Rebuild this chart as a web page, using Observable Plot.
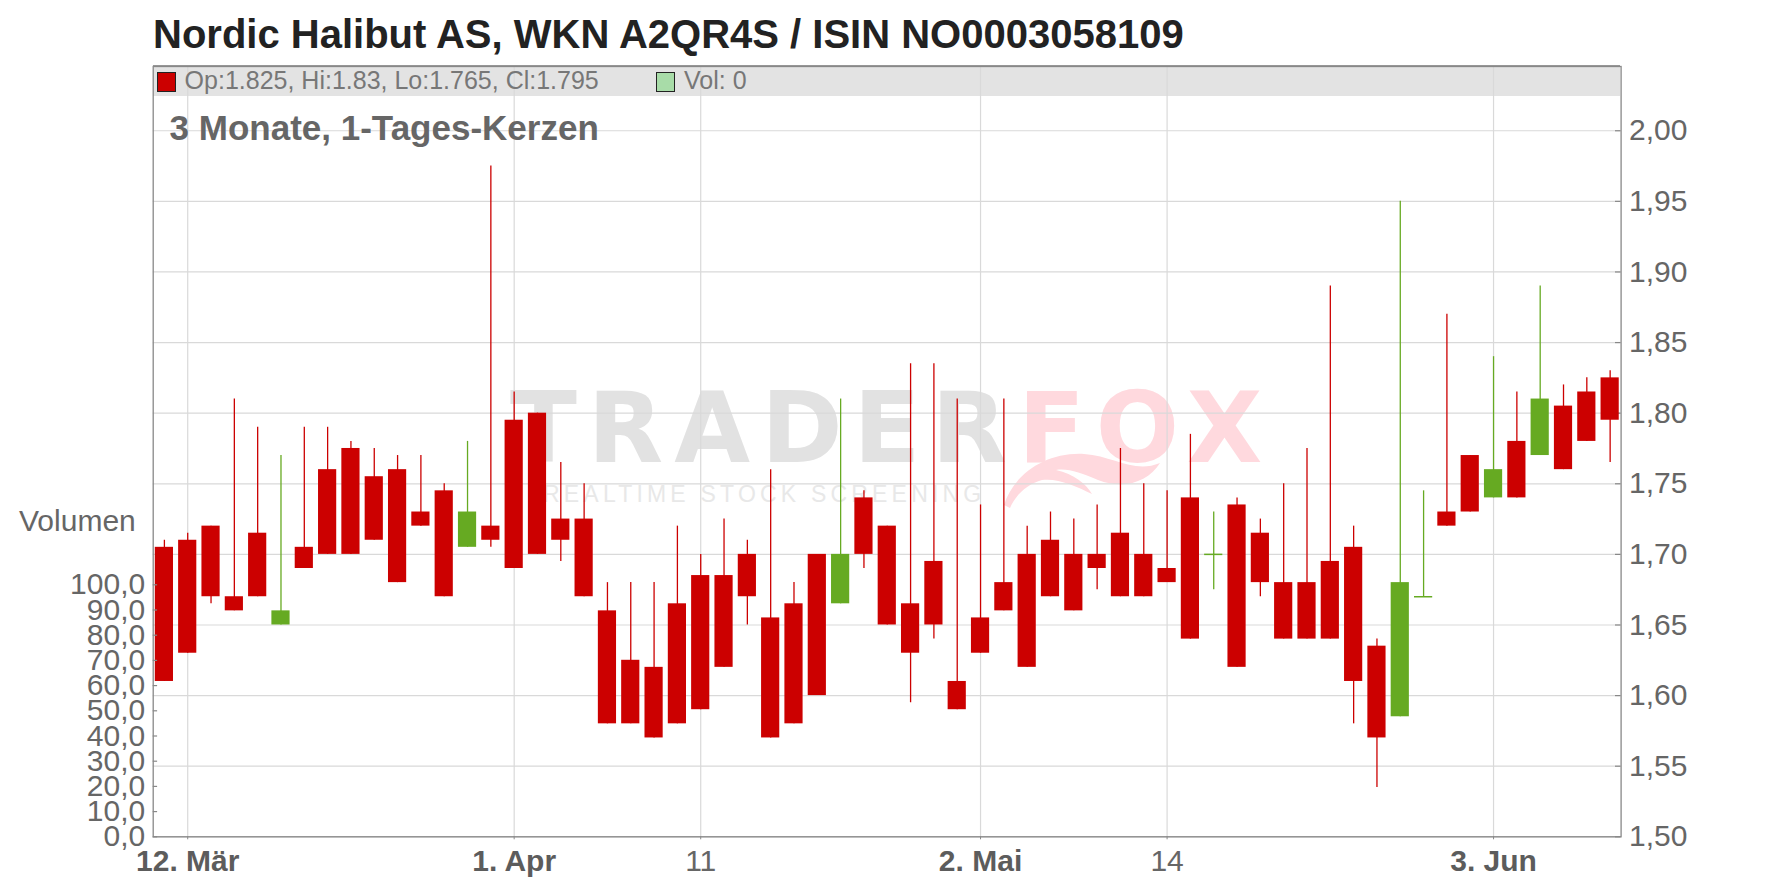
<!DOCTYPE html>
<html>
<head>
<meta charset="utf-8">
<script src="https://cdn.jsdelivr.net/npm/d3@7"></script>
<script src="https://cdn.jsdelivr.net/npm/@observablehq/plot@0.6"></script>
<style>
html, body { margin: 0; padding: 0; background: #fff; }
#wrap { position: relative; width: 1776px; height: 888px; overflow: hidden; font-family: "Liberation Sans", Arial, sans-serif; }
.abs { position: absolute; white-space: nowrap; line-height: 1; }
#chart, #vol { position: absolute; left: 0; top: 0; }
.sq { position: absolute; box-sizing: border-box; border: 1.5px solid #222; }
</style>
</head>
<body>
<div id="wrap">
  <div class="abs" style="left:153px;top:65px;width:1467px;height:31px;background:#e3e3e3;border-top:1.5px solid #999;box-sizing:border-box;"></div>
  <svg class="abs" style="left:0;top:0;" width="1776" height="888">
    <path d="M 1004,505 C 1014,474 1046,452 1084,454 C 1114,456 1134,474 1160,463 C 1148,482 1124,490 1098,480 C 1081,473 1068,468 1056,470 C 1074,474 1086,484 1092,494 C 1076,486 1058,478 1042,480 C 1028,484 1016,494 1010,508 Z" fill="#ffd9de"/>
  </svg>
  <div class="abs" id="wm1" style="left:510px;top:379px;font-family:'DejaVu Sans',sans-serif;font-size:98px;font-weight:bold;letter-spacing:11px;color:#e2e2e2;">TRADER<span style="color:#ffd9de;">FOX</span></div>
  <div class="abs" id="wm2" style="left:543px;top:483px;font-size:23px;letter-spacing:4.2px;color:#e8e8e8;">REALTIME STOCK SCREENING</div>
  <div id="chart"></div>
  <div id="vol"></div>
  <div class="abs" id="title" style="left:153px;top:13.7px;font-size:40px;font-weight:bold;color:#222;"></div>
  <div class="sq" style="left:157px;top:71.5px;width:19px;height:20px;background:#cc0000;"></div>
  <div class="abs" id="legendOHLC" style="left:184.6px;top:68.3px;font-size:25px;color:#777;"></div>
  <div class="sq" style="left:656px;top:71.5px;width:19px;height:20px;background:#a8dca8;"></div>
  <div class="abs" id="legendVol" style="left:684px;top:68.3px;font-size:25px;color:#777;"></div>
  <div class="abs" id="subtitle" style="left:169.6px;top:110.4px;font-size:35px;font-weight:bold;color:#666;"></div>
  <div class="abs" id="volLabel" style="left:19px;top:506.3px;font-size:30px;color:#666;"></div>
</div>
<script>
// ---- Data ----
const titleText = "Nordic Halibut AS, WKN A2QR4S / ISIN NO0003058109";
const subtitleText = "3 Monate, 1-Tages-Kerzen";
const volumeLabel = "Volumen";
const legendOHLC = "Op:1.825, Hi:1.83, Lo:1.765, Cl:1.795";
const legendVol = "Vol: 0";

const days = [
  "2025-03-11","2025-03-12","2025-03-13","2025-03-14","2025-03-17","2025-03-18","2025-03-19","2025-03-20","2025-03-21","2025-03-24",
  "2025-03-25","2025-03-26","2025-03-27","2025-03-28","2025-03-31","2025-04-01","2025-04-02","2025-04-03","2025-04-04","2025-04-07",
  "2025-04-08","2025-04-09","2025-04-10","2025-04-11","2025-04-14","2025-04-15","2025-04-16","2025-04-17","2025-04-22","2025-04-23",
  "2025-04-24","2025-04-25","2025-04-28","2025-04-29","2025-04-30","2025-05-02","2025-05-05","2025-05-06","2025-05-07","2025-05-08",
  "2025-05-09","2025-05-12","2025-05-13","2025-05-14","2025-05-15","2025-05-16","2025-05-19","2025-05-20","2025-05-21","2025-05-22",
  "2025-05-23","2025-05-26","2025-05-27","2025-05-28","2025-05-29","2025-05-30","2025-06-02","2025-06-03","2025-06-04","2025-06-05",
  "2025-06-06","2025-06-09","2025-06-10"
];
const open = [
  1.705,1.71,1.72,1.67,1.715,1.65,1.705,1.76,1.775,1.755,
  1.76,1.73,1.745,1.705,1.72,1.795,1.80,1.725,1.725,1.66,
  1.625,1.62,1.665,1.685,1.685,1.70,1.655,1.665,1.70,1.665,
  1.74,1.72,1.665,1.695,1.61,1.655,1.68,1.70,1.71,1.70,
  1.70,1.715,1.70,1.69,1.74,1.70,1.735,1.715,1.68,1.68,
  1.695,1.705,1.635,1.585,1.67,1.73,1.77,1.74,1.78,1.77,
  1.805,1.815,1.825
];
const high = [
  1.71,1.715,1.72,1.81,1.79,1.77,1.79,1.79,1.78,1.775,
  1.77,1.77,1.75,1.78,1.975,1.815,1.80,1.765,1.75,1.68,
  1.68,1.68,1.72,1.70,1.725,1.71,1.76,1.68,1.70,1.81,
  1.745,1.72,1.835,1.835,1.81,1.735,1.81,1.72,1.73,1.725,
  1.735,1.775,1.75,1.745,1.785,1.73,1.74,1.725,1.75,1.775,
  1.89,1.72,1.64,1.95,1.745,1.87,1.77,1.84,1.815,1.89,
  1.82,1.825,1.83
];
const low = [
  1.61,1.63,1.665,1.66,1.67,1.65,1.69,1.70,1.70,1.71,
  1.68,1.72,1.67,1.705,1.705,1.69,1.70,1.695,1.67,1.58,
  1.58,1.57,1.58,1.59,1.62,1.65,1.57,1.58,1.60,1.665,
  1.69,1.65,1.595,1.64,1.59,1.63,1.66,1.62,1.67,1.66,
  1.675,1.67,1.67,1.68,1.64,1.675,1.62,1.67,1.64,1.64,
  1.64,1.58,1.535,1.585,1.67,1.72,1.73,1.74,1.74,1.77,
  1.76,1.78,1.765
];
const close = [
  1.61,1.63,1.67,1.66,1.67,1.66,1.69,1.70,1.70,1.71,
  1.68,1.72,1.67,1.73,1.71,1.69,1.70,1.71,1.67,1.58,
  1.58,1.57,1.58,1.59,1.62,1.67,1.57,1.58,1.60,1.70,
  1.70,1.65,1.63,1.65,1.59,1.63,1.66,1.62,1.67,1.66,
  1.69,1.67,1.67,1.68,1.64,1.70,1.62,1.68,1.64,1.64,
  1.64,1.61,1.57,1.68,1.67,1.72,1.73,1.76,1.74,1.81,
  1.76,1.78,1.795
];

const priceTicks = [1.50, 1.55, 1.60, 1.65, 1.70, 1.75, 1.80, 1.85, 1.90, 1.95, 2.00];
const volumeTicks = [0, 10, 20, 30, 40, 50, 60, 70, 80, 90, 100];
const xTickDates = ["2025-03-12", "2025-04-01", "2025-04-11", "2025-05-02", "2025-05-14", "2025-06-03"];
const xTickLabels = ["12. Mär", "1. Apr", "11", "2. Mai", "14", "3. Jun"];
const xTickBold = [true, true, false, true, false, true];

const UP = "#66aa22", DOWN = "#cc0000";

// ---- Build table ----
const rows = days.map((d, i) => ({i, date: d, open: open[i], high: high[i], low: low[i], close: close[i],
  color: close[i] >= open[i] ? UP : DOWN}));
const bodies = rows.filter(d => d.open !== d.close);
const dojis = rows.filter(d => d.open === d.close);
const tickIdx = xTickDates.map(d => days.indexOf(d));
const labelOf = new Map(tickIdx.map((t, k) => [t, xTickLabels[k]]));
const boldIdx = tickIdx.filter((t, k) => xTickBold[k]);
const normIdx = tickIdx.filter((t, k) => !xTickBold[k]);
const half = 0.39;
const fmtPrice = d => d.toFixed(2).replace(".", ",");
const fmtVol = d => d.toFixed(1).replace(".", ",");

document.getElementById("title").textContent = titleText;
document.getElementById("subtitle").textContent = subtitleText;
document.getElementById("volLabel").textContent = volumeLabel;
document.getElementById("legendOHLC").textContent = legendOHLC;
document.getElementById("legendVol").textContent = legendVol;

const W = 1776, H = 888;
const mL = 152.7, mR = 155.4, mT = 66, mB = 51.7;
const xDomain = [-0.48, 62.47];

const chart = Plot.plot({
  width: W, height: H,
  marginLeft: mL, marginRight: mR, marginTop: mT, marginBottom: mB,
  style: {fontFamily: "'Liberation Sans', Arial, sans-serif", background: "transparent", overflow: "visible"},
  x: {type: "linear", domain: xDomain},
  y: {domain: [1.5, 2.0455]},
  color: {type: "identity"},
  marks: [
    Plot.gridY(priceTicks, {stroke: "#d9d9d9", strokeOpacity: 1, strokeWidth: 1.2}),
    Plot.gridX(tickIdx, {stroke: "#d9d9d9", strokeOpacity: 1, strokeWidth: 1.2}),
    Plot.ruleY(priceTicks, {x1: xDomain[1] - 0.24, x2: xDomain[1], stroke: "#888", strokeWidth: 1.2}),
    Plot.ruleX(rows, {x: "i", y1: "low", y2: "high", stroke: "color", strokeWidth: 1.3}),
    Plot.rect(bodies, {x1: d => d.i - half, x2: d => d.i + half, y1: "open", y2: "close", fill: "color"}),
    Plot.ruleY(dojis, {y: "open", x1: d => d.i - half, x2: d => d.i + half, stroke: "color", strokeWidth: 1.5}),
    Plot.frame({stroke: "#888", strokeWidth: 1.3}),
    Plot.axisY(priceTicks, {anchor: "right", tickSize: 0, tickPadding: 8, tickFormat: fmtPrice,
      fontSize: 30, color: "#666", label: null}),
    Plot.axisX(boldIdx, {anchor: "bottom", tickSize: 3, tickPadding: 10, tickFormat: d => labelOf.get(d),
      fontSize: 30, fontWeight: "bold", color: "#5c5c5c", stroke: "#888", label: null}),
    Plot.axisX(normIdx, {anchor: "bottom", tickSize: 3, tickPadding: 10, tickFormat: d => labelOf.get(d),
      fontSize: 30, color: "#666", stroke: "#888", label: null})
  ]
});
document.getElementById("chart").appendChild(chart);

const vol = Plot.plot({
  width: W, height: H,
  marginLeft: mL, marginRight: mR, marginTop: 584.3, marginBottom: mB,
  style: {fontFamily: "'Liberation Sans', Arial, sans-serif", background: "transparent", overflow: "visible"},
  x: {domain: [0, 1], axis: null},
  y: {domain: [0, 100]},
  marks: [
    Plot.ruleY(volumeTicks, {x1: 0, x2: 0.003, stroke: "#888", strokeWidth: 1.2}),
    Plot.axisY(volumeTicks, {anchor: "left", tickSize: 0, tickPadding: 8, tickFormat: fmtVol,
      fontSize: 30, color: "#666", label: null})
  ]
});
document.getElementById("vol").appendChild(vol);
</script>
</body>
</html>
